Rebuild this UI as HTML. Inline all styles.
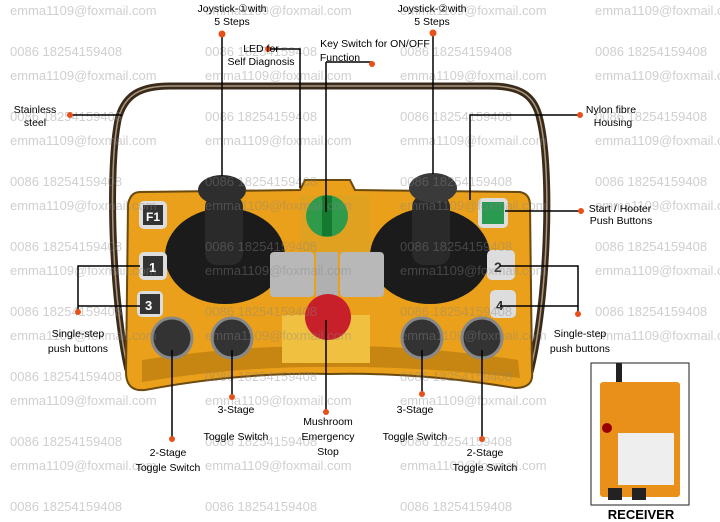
<!DOCTYPE html>
<html><head><style>
body{margin:0;width:720px;height:522px;overflow:hidden;background:#fff;font-family:"Liberation Sans",sans-serif}
svg{display:block}
.w{fill:#888;fill-opacity:0.4;font-size:13px}
.l{font-size:10.5px;fill:#000}
</style></head><body>
<svg width="720" height="522" viewBox="0 0 720 522">
<!-- handle -->
<path d="M128 370 C112 300 108 170 118 120 C124 95 140 86 170 86 L490 86 C520 86 535 95 540 120 C552 170 548 300 530 372" fill="none" stroke="#3a2a1a" stroke-width="7"/>
<path d="M128 370 C112 300 108 170 118 120 C124 95 140 86 170 86 L490 86 C520 86 535 95 540 120 C552 170 548 300 530 372" fill="none" stroke="#a89880" stroke-width="1.5"/>
<!-- body -->
<path d="M140 192 L300 190 L305 180 L350 180 L355 190 L520 192 Q530 194 530 205 L532 372 Q534 388 515 388 Q420 372 330 374 Q240 372 145 390 Q126 392 126 372 L128 205 Q130 192 140 192Z" fill="#eaa01a" stroke="#6b4a10" stroke-width="2"/>
<path d="M142 360 Q240 345 330 346 Q420 345 518 360 L520 378 Q420 366 330 367 Q240 366 142 382Z" fill="#c78512"/>
<!-- joysticks -->
<ellipse cx="225" cy="256" rx="60" ry="48" fill="#1b1b1b"/>
<rect x="205" y="195" width="38" height="70" rx="12" fill="#2a2a2a"/>
<ellipse cx="222" cy="190" rx="24" ry="15" fill="#2e2e2e"/>
<ellipse cx="430" cy="256" rx="60" ry="48" fill="#1b1b1b"/>
<rect x="412" y="195" width="38" height="70" rx="12" fill="#2a2a2a"/>
<ellipse cx="433" cy="188" rx="24" ry="15" fill="#3a3a3a"/>
<!-- center panel -->
<rect x="300" y="195" width="70" height="60" fill="#e0a020"/>
<circle cx="327" cy="216" r="21" fill="#2e9a4a"/>
<rect x="322" y="196" width="10" height="40" fill="#147a30"/>
<rect x="270" y="252" width="44" height="45" rx="4" fill="#b8b8b8"/>
<rect x="316" y="252" width="22" height="45" fill="#b0b0b0"/>
<rect x="340" y="252" width="44" height="45" rx="4" fill="#b8b8b8"/>
<rect x="282" y="315" width="88" height="48" fill="#f0c040"/>
<circle cx="328" cy="317" r="23" fill="#c8202a"/>
<!-- buttons -->
<rect x="139" y="201" width="28" height="28" rx="5" fill="#ddd"/><rect x="143" y="205" width="20" height="20" fill="#333"/><text x="146" y="221" fill="#fff" font-size="12" font-weight="bold">F1</text>
<rect x="139" y="252" width="28" height="28" rx="5" fill="#ddd"/><rect x="143" y="256" width="20" height="20" fill="#333"/><text x="149" y="272" fill="#fff" font-size="13" font-weight="bold">1</text>
<rect x="137" y="291" width="26" height="26" rx="5" fill="#ddd"/><rect x="140" y="294" width="20" height="20" fill="#333"/><text x="145" y="310" fill="#fff" font-size="13" font-weight="bold">3</text>
<rect x="478" y="198" width="30" height="30" rx="5" fill="#ddd"/><rect x="482" y="202" width="22" height="22" fill="#2a9a50"/>
<rect x="487" y="250" width="28" height="30" rx="5" fill="#ddd"/><text x="494" y="272" fill="#333" font-size="14" font-weight="bold">2</text>
<rect x="490" y="290" width="26" height="28" rx="5" fill="#ddd"/><text x="496" y="310" fill="#333" font-size="13" font-weight="bold">4</text>
<!-- toggles -->
<g fill="#333" stroke="#888" stroke-width="3">
<circle cx="172" cy="338" r="20"/><circle cx="232" cy="338" r="20"/><circle cx="422" cy="338" r="20"/><circle cx="482" cy="338" r="20"/></g>
<!-- watermarks -->
<g class="w">
<text x="10" y="15">emma1109@foxmail.com</text><text x="205" y="15">emma1109@foxmail.com</text><text x="400" y="15">emma1109@foxmail.com</text><text x="595" y="15">emma1109@foxmail.com</text>
<text x="10" y="56">0086 18254159408</text><text x="205" y="56">0086 18254159408</text><text x="400" y="56">0086 18254159408</text><text x="595" y="56">0086 18254159408</text>
<text x="10" y="80">emma1109@foxmail.com</text><text x="205" y="80">emma1109@foxmail.com</text><text x="400" y="80">emma1109@foxmail.com</text><text x="595" y="80">emma1109@foxmail.com</text>
<text x="10" y="121">0086 18254159408</text><text x="205" y="121">0086 18254159408</text><text x="400" y="121">0086 18254159408</text><text x="595" y="121">0086 18254159408</text>
<text x="10" y="145">emma1109@foxmail.com</text><text x="205" y="145">emma1109@foxmail.com</text><text x="400" y="145">emma1109@foxmail.com</text><text x="595" y="145">emma1109@foxmail.com</text>
<text x="10" y="186">0086 18254159408</text><text x="205" y="186">0086 18254159408</text><text x="400" y="186">0086 18254159408</text><text x="595" y="186">0086 18254159408</text>
<text x="10" y="210">emma1109@foxmail.com</text><text x="205" y="210">emma1109@foxmail.com</text><text x="400" y="210">emma1109@foxmail.com</text><text x="595" y="210">emma1109@foxmail.com</text>
<text x="10" y="251">0086 18254159408</text><text x="205" y="251">0086 18254159408</text><text x="400" y="251">0086 18254159408</text><text x="595" y="251">0086 18254159408</text>
<text x="10" y="275">emma1109@foxmail.com</text><text x="205" y="275">emma1109@foxmail.com</text><text x="400" y="275">emma1109@foxmail.com</text><text x="595" y="275">emma1109@foxmail.com</text>
<text x="10" y="316">0086 18254159408</text><text x="205" y="316">0086 18254159408</text><text x="400" y="316">0086 18254159408</text><text x="595" y="316">0086 18254159408</text>
<text x="10" y="340">emma1109@foxmail.com</text><text x="205" y="340">emma1109@foxmail.com</text><text x="400" y="340">emma1109@foxmail.com</text><text x="595" y="340">emma1109@foxmail.com</text>
<text x="10" y="381">0086 18254159408</text><text x="205" y="381">0086 18254159408</text><text x="400" y="381">0086 18254159408</text>
<text x="10" y="405">emma1109@foxmail.com</text><text x="205" y="405">emma1109@foxmail.com</text><text x="400" y="405">emma1109@foxmail.com</text>
<text x="10" y="446">0086 18254159408</text><text x="205" y="446">0086 18254159408</text><text x="400" y="446">0086 18254159408</text>
<text x="10" y="470">emma1109@foxmail.com</text><text x="205" y="470">emma1109@foxmail.com</text><text x="400" y="470">emma1109@foxmail.com</text>
<text x="10" y="511">0086 18254159408</text><text x="205" y="511">0086 18254159408</text><text x="400" y="511">0086 18254159408</text>
</g>
<!-- receiver -->
<rect x="591" y="363" width="98" height="142" fill="#fff" stroke="#444" stroke-width="1.2"/>
<rect x="616" y="363" width="6" height="22" fill="#222"/>
<rect x="600" y="382" width="80" height="115" rx="3" fill="#e8901a"/>
<rect x="618" y="433" width="56" height="52" fill="#eee"/>
<circle cx="607" cy="428" r="5" fill="#900"/>
<rect x="608" y="488" width="14" height="12" fill="#222"/><rect x="632" y="488" width="14" height="12" fill="#222"/>
<text x="641" y="519" text-anchor="middle" font-size="13" font-weight="bold">RECEIVER</text>
<!-- connectors -->
<g stroke="#000" stroke-width="1.5" fill="none">
<path d="M222 34 V176"/><path d="M270 49 H300 V188"/><path d="M326 62 H372 M326 62 V212"/><path d="M433 33 V174"/>
<path d="M70 115 H122"/><path d="M580 115 H470 V200"/><path d="M505 211 H581"/>
<path d="M140 266 H78 V310 M140 306 H78"/><path d="M500 266 H578 V312 M500 306 H578"/>
<path d="M172 350 V437"/><path d="M232 350 V395"/><path d="M326 320 V410"/><path d="M422 350 V392"/><path d="M482 350 V437"/>
</g>
<g fill="#e8501a">
<circle cx="222" cy="34" r="3.5"/><circle cx="268" cy="49" r="3"/><circle cx="372" cy="64" r="3"/><circle cx="433" cy="33" r="3.5"/>
<circle cx="70" cy="115" r="3"/><circle cx="580" cy="115" r="3"/><circle cx="581" cy="211" r="3"/>
<circle cx="78" cy="312" r="3"/><circle cx="578" cy="314" r="3"/>
<circle cx="172" cy="439" r="3"/><circle cx="232" cy="397" r="3"/><circle cx="326" cy="412" r="3"/><circle cx="422" cy="394" r="3"/><circle cx="482" cy="439" r="3"/>
</g>
<!-- labels -->
<g class="l" text-anchor="middle">
<text x="232" y="12">Joystick-①with</text><text x="232" y="25">5 Steps</text>
<text x="261" y="52">LED for</text><text x="261" y="65">Self Diagnosis</text>
<text x="375" y="47">Key Switch for ON/OFF</text><text x="340" y="61">Function</text>
<text x="432" y="12">Joystick-②with</text><text x="432" y="25">5 Steps</text>
<text x="35" y="113">Stainless</text><text x="35" y="126">steel</text>
<text x="611" y="113">Nylon fibre</text><text x="613" y="126">Housing</text>
<text x="620" y="212">Start / Hooter</text><text x="621" y="224">Push Buttons</text>
<text x="78" y="337">Single-step</text><text x="78" y="352">push buttons</text>
<text x="580" y="337">Single-step</text><text x="580" y="352">push buttons</text>
<text x="236" y="413">3-Stage</text><text x="236" y="440">Toggle Switch</text>
<text x="168" y="456">2-Stage</text><text x="168" y="471">Toggle Switch</text>
<text x="328" y="425">Mushroom</text><text x="328" y="440">Emergency</text><text x="328" y="455">Stop</text>
<text x="415" y="413">3-Stage</text><text x="415" y="440">Toggle Switch</text>
<text x="485" y="456">2-Stage</text><text x="485" y="471">Toggle Switch</text>
</g>
</svg>
</body></html>
